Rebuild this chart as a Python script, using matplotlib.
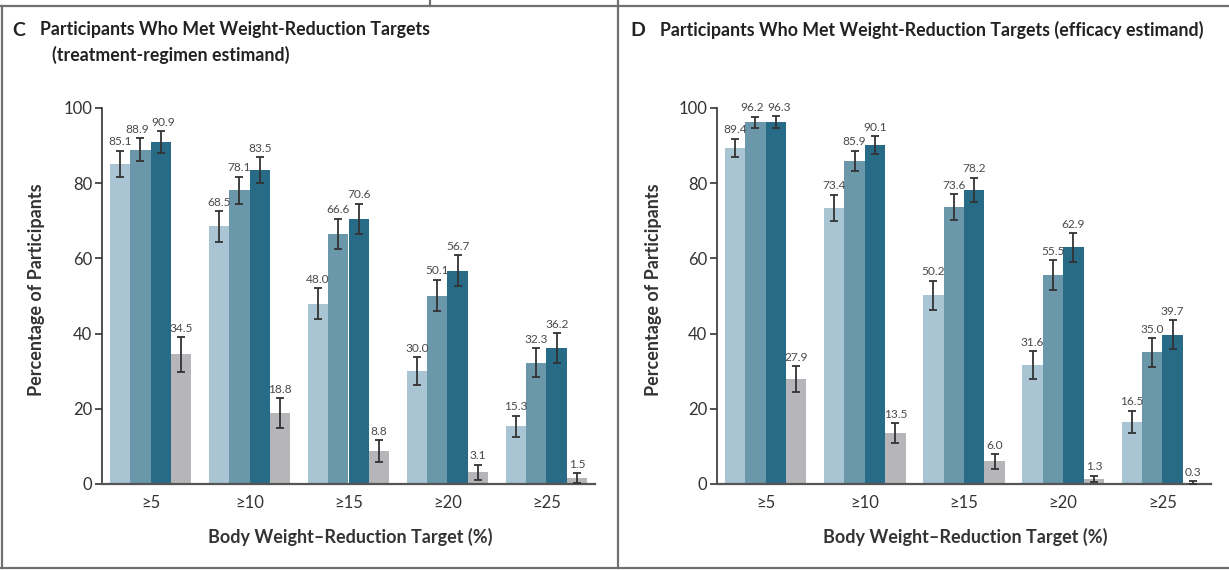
import matplotlib
matplotlib.use("Agg")
import matplotlib.pyplot as plt
from matplotlib.lines import Line2D
import numpy as np

plt.rcParams['font.family'] = ['Lato', 'DejaVu Sans']

# Weight-reduction thresholds on the x axis
targets = ["≥5", "≥10", "≥15", "≥20", "≥25"]
y_ticks = [0, 20, 40, 60, 80, 100]

# Panel C: treatment-regimen estimand (percent of participants, 95% CI half-widths)
c_low = [85.1, 68.5, 48.0, 30.0, 15.3]
c_mid = [88.9, 78.1, 66.6, 50.1, 32.3]
c_high = [90.9, 83.5, 70.6, 56.7, 36.2]
c_placebo = [34.5, 18.8, 8.8, 3.1, 1.5]
c_low_err = [3.5, 4.1, 4.1, 3.7, 2.9]
c_mid_err = [3.0, 3.6, 4.0, 4.2, 3.8]
c_high_err = [2.9, 3.4, 4.0, 4.1, 3.9]
c_placebo_err = [4.6, 4.0, 2.9, 2.0, 1.3]

# Panel D: efficacy estimand
d_low = [89.4, 73.4, 50.2, 31.6, 16.5]
d_mid = [96.2, 85.9, 73.6, 55.5, 35.0]
d_high = [96.3, 90.1, 78.2, 62.9, 39.7]
d_placebo = [27.9, 13.5, 6.0, 1.3, 0.3]
d_low_err = [2.4, 3.5, 3.9, 3.7, 3.0]
d_mid_err = [1.5, 2.7, 3.5, 4.0, 3.8]
d_high_err = [1.5, 2.4, 3.3, 3.8, 3.9]
d_placebo_err = [3.5, 2.7, 1.9, 0.9, 0.4]

colors = ["#a9c5d3", "#6a97aa", "#276b86", "#b6b6ba"]
ink = "#333333"
label_ink = "#4a4a4a"

W, H = 1229, 570
fig = plt.figure(figsize=(W / 100, H / 100), dpi=100)


def px_box(left, top, right, bottom):
    return [left / W, 1 - bottom / H, (right - left) / W, (bottom - top) / H]


def draw_panel(ax, groups, errs):
    x = np.arange(len(targets))
    width = 0.206
    offsets = (np.arange(4) - 1.5) * width
    label_x = []
    label_y = []
    for vals, err, off, col in zip(groups, errs, offsets, colors):
        vals = np.asarray(vals)
        err = np.asarray(err)
        lower = np.minimum(err, vals)
        ax.bar(x + off, vals, width=width, color=col, edgecolor="none", zorder=2)
        ax.errorbar(x + off, vals, yerr=[lower, err], fmt="none", ecolor=ink,
                    elinewidth=1.3, capsize=2.6, capthick=1.3, zorder=3)
        label_x.append(x + off)
        label_y.append(vals + err + 0.9)
    label_x = np.array(label_x, dtype=float)
    label_y = np.array(label_y, dtype=float)
    # push apart neighbouring value labels that sit at nearly the same height
    nudge = np.zeros_like(label_x)
    for g in range(label_x.shape[1]):
        for s in range(label_x.shape[0] - 1):
            if abs(label_y[s, g] - label_y[s + 1, g]) < 3.2:
                nudge[s, g] -= 0.03
                nudge[s + 1, g] += 0.03
    for s, vals in enumerate(groups):
        for g, v in enumerate(vals):
            ax.text(label_x[s, g] + nudge[s, g], label_y[s, g], f"{v:.1f}",
                    ha="center", va="bottom", fontsize=8.6, color=label_ink,
                    zorder=4, clip_on=False)
    ax.set_xlim(-0.49, len(targets) - 1 + 0.49)
    ax.set_ylim(0, 100)
    ax.set_xticks(x)
    ax.set_xticklabels(targets, fontsize=12, color=ink)
    ax.set_yticks(y_ticks)
    ax.set_yticklabels([str(t) for t in y_ticks], fontsize=12, color=ink)
    ax.tick_params(axis="x", length=0, pad=8)
    ax.tick_params(axis="y", length=5, width=1.2, color=ink, pad=2)
    for s in ("top", "right"):
        ax.spines[s].set_visible(False)
    ax.spines["left"].set_color(ink)
    ax.spines["left"].set_linewidth(1.2)
    ax.spines["bottom"].set_color("#555555")
    ax.spines["bottom"].set_linewidth(1.6)
    ax.patch.set_alpha(0)


ax_c = fig.add_axes(px_box(102, 108, 595, 484))
draw_panel(ax_c, [c_low, c_mid, c_high, c_placebo],
           [c_low_err, c_mid_err, c_high_err, c_placebo_err])

ax_d = fig.add_axes(px_box(717, 108, 1211, 484))
draw_panel(ax_d, [d_low, d_mid, d_high, d_placebo],
           [d_low_err, d_mid_err, d_high_err, d_placebo_err])

# Axis titles
ylab = "Percentage of Participants"
xlab = "Body Weight\u2013Reduction Target (%)"
for cx in (37, 653):
    fig.text(cx / W, 1 - 290 / H, ylab, rotation=90, ha="center", va="center",
             fontsize=13, fontweight="bold", color=ink)
for cx in (350, 965):
    fig.text(cx / W, 1 - 537 / H, xlab, ha="center", va="center",
             fontsize=13, fontweight="bold", color=ink)

# Panel headings
fig.text(12 / W, 1 - 30 / H, "C", ha="left", va="center", fontsize=14,
         fontweight="bold", color="#222222")
fig.text(40 / W, 1 - 30 / H, "Participants Who Met Weight-Reduction Targets",
         ha="left", va="center", fontsize=12.8, fontweight="bold", color="#222222")
fig.text(52 / W, 1 - 55 / H, "(treatment-regimen estimand)",
         ha="left", va="center", fontsize=12.8, fontweight="bold", color="#222222")
fig.text(630 / W, 1 - 30 / H, "D", ha="left", va="center", fontsize=14,
         fontweight="bold", color="#222222")
fig.text(660 / W, 1 - 30 / H,
         "Participants Who Met Weight-Reduction Targets (efficacy estimand)",
         ha="left", va="center", fontsize=12.8, fontweight="bold", color="#222222")

# Panel frame lines
frame = dict(color="#707070", linewidth=1.6, transform=fig.transFigure)


def hline(y, x0, x1):
    fig.add_artist(Line2D([x0 / W, x1 / W], [1 - y / H, 1 - y / H], **frame))


def vline(x, y0, y1):
    fig.add_artist(Line2D([x / W, x / W], [1 - y0 / H, 1 - y1 / H], **frame))


hline(6, 0, W)
hline(568, 0, W)
vline(2, 6, 568)
vline(618, 0, 568)
vline(430, 0, 6)

fig.savefig("out.png", dpi=100)
